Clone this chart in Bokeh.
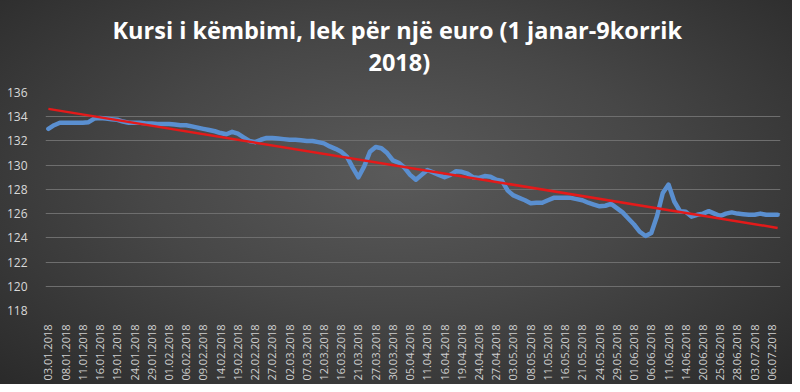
import numpy as np
from bokeh.plotting import figure
from bokeh.models import FixedTicker, Range1d, Title
from bokeh.embed import file_html
from bokeh.resources import INLINE

# business days, 3 Jan - 9 Jul 2018
dates = (
    ["03.01.2018", "04.01.2018", "05.01.2018", "08.01.2018", "09.01.2018", "10.01.2018",
     "11.01.2018", "12.01.2018", "15.01.2018", "16.01.2018", "17.01.2018", "18.01.2018",
     "19.01.2018", "22.01.2018", "23.01.2018", "24.01.2018", "25.01.2018", "26.01.2018",
     "29.01.2018", "30.01.2018", "31.01.2018"]
    + ["01.02.2018", "02.02.2018", "05.02.2018", "06.02.2018", "07.02.2018", "08.02.2018",
       "09.02.2018", "12.02.2018", "13.02.2018", "14.02.2018", "15.02.2018", "16.02.2018",
       "19.02.2018", "20.02.2018", "21.02.2018", "22.02.2018", "23.02.2018", "26.02.2018",
       "27.02.2018", "28.02.2018"]
    + ["01.03.2018", "02.03.2018", "05.03.2018", "06.03.2018", "07.03.2018", "08.03.2018",
       "09.03.2018", "12.03.2018", "13.03.2018", "15.03.2018", "16.03.2018", "19.03.2018",
       "20.03.2018", "21.03.2018", "23.03.2018", "26.03.2018", "27.03.2018", "28.03.2018",
       "29.03.2018", "30.03.2018"]
    + ["03.04.2018", "04.04.2018", "05.04.2018", "06.04.2018", "10.04.2018", "11.04.2018",
       "12.04.2018", "13.04.2018", "16.04.2018", "17.04.2018", "18.04.2018", "19.04.2018",
       "20.04.2018", "23.04.2018", "24.04.2018", "25.04.2018", "26.04.2018", "27.04.2018",
       "30.04.2018"]
    + ["02.05.2018", "03.05.2018", "04.05.2018", "07.05.2018", "08.05.2018", "09.05.2018",
       "10.05.2018", "11.05.2018", "14.05.2018", "15.05.2018", "16.05.2018", "17.05.2018",
       "18.05.2018", "21.05.2018", "22.05.2018", "23.05.2018", "24.05.2018", "25.05.2018",
       "28.05.2018", "29.05.2018", "30.05.2018", "31.05.2018"]
    + ["01.06.2018", "04.06.2018", "05.06.2018", "06.06.2018", "07.06.2018", "08.06.2018",
       "11.06.2018", "12.06.2018", "13.06.2018", "14.06.2018", "18.06.2018", "19.06.2018",
       "20.06.2018", "21.06.2018", "22.06.2018", "25.06.2018", "26.06.2018", "27.06.2018",
       "28.06.2018", "29.06.2018"]
    + ["02.07.2018", "03.07.2018", "04.07.2018", "05.07.2018", "06.07.2018", "09.07.2018"]
)

# lek per euro
rate = [
    133.0, 133.3, 133.5, 133.5, 133.5, 133.5, 133.5, 133.55, 133.85, 133.9,
    133.85, 133.8, 133.75, 133.6, 133.5, 133.5, 133.5, 133.45, 133.45, 133.4,
    133.4, 133.4, 133.35, 133.3, 133.3, 133.2, 133.1, 133.0, 132.9, 132.8,
    132.65, 132.55, 132.75, 132.6, 132.3, 132.0, 131.9, 132.1, 132.25, 132.25,
    132.2, 132.15, 132.1, 132.1, 132.05, 132.0, 132.0, 131.9, 131.8, 131.55,
    131.35, 131.1, 130.7, 129.8, 129.0, 129.9, 131.1, 131.5, 131.4, 131.0,
    130.4, 130.2, 129.8, 129.2, 128.8, 129.2, 129.6, 129.4, 129.2, 129.0,
    129.2, 129.5, 129.45, 129.3, 129.0, 128.95, 129.1, 129.05, 128.8, 128.7,
    127.9, 127.5, 127.3, 127.1, 126.85, 126.9, 126.9, 127.1, 127.3, 127.3,
    127.3, 127.3, 127.2, 127.1, 126.9, 126.75, 126.6, 126.65, 126.8, 126.45,
    126.1, 125.6, 125.1, 124.5, 124.15, 124.4, 125.8, 127.7, 128.4, 127.0,
    126.2, 126.15, 125.75, 125.9, 126.0, 126.2, 126.0, 125.8, 126.0, 126.1,
    126.0, 125.95, 125.9, 125.9, 126.0, 125.9, 125.9, 125.9,
]

y_ticks = [118, 120, 122, 124, 126, 128, 130, 132, 134, 136]
title_line1 = "Kursi i këmbimi, lek për një euro (1 janar-9korrik"
title_line2 = "2018)"

x = list(range(len(dates)))
tick_idx = x[::3]
coef = np.polyfit(x, rate, 1)
trend_x = [x[0], x[-1]]
trend_y = [float(v) for v in np.polyval(coef, trend_x)]

p = figure(
    width=792, height=384, output_backend="svg", toolbar_location=None,
    x_range=Range1d(-0.5, len(dates) - 0.5), y_range=Range1d(118, 136),
    min_border_left=45, min_border_right=12, min_border_top=92, min_border_bottom=74,
    title=None,
)
p.styles = {"background": "radial-gradient(ellipse at 50% 45%, #5a5a5a 0%, #474747 45%, #2a2a2a 100%)"}
p.border_fill_alpha = 0
p.background_fill_alpha = 0
p.outline_line_color = None


def make_title(txt, standoff, valign, offset):
    return Title(text=txt, align="left", vertical_align=valign, text_color="white",
                 text_font="Open Sans", text_font_style="bold", text_font_size="23.5px",
                 standoff=standoff, offset=offset)


p.add_layout(make_title(title_line2, 25, "top", 323), "above")
p.add_layout(make_title(title_line1, -25.2, "bottom", 67), "above")

p.line(x, rate, line_color="#5A8FD0", line_width=4.5, line_join="round", line_cap="round")
p.line(trend_x, trend_y, line_color="#E31A1A", line_width=2.5)

p.xaxis.ticker = FixedTicker(ticks=tick_idx)
p.xaxis.major_label_overrides = {i: dates[i] for i in tick_idx}
p.xaxis.major_label_orientation = np.pi / 2
p.xaxis.major_label_text_font = "Open Sans"
p.xaxis.major_label_text_font_size = "11px"
p.xaxis.major_label_text_color = "#d0d0d0"
p.xaxis.major_label_standoff = 8
p.xaxis.axis_line_color = None
p.xaxis.major_tick_line_color = None
p.xaxis.minor_tick_line_color = None

p.yaxis.ticker = FixedTicker(ticks=y_ticks)
p.yaxis.major_label_text_font = "Open Sans"
p.yaxis.major_label_text_font_size = "12px"
p.yaxis.major_label_text_color = "#d9d9d9"
p.yaxis.major_label_standoff = 12
p.yaxis.axis_line_color = None
p.yaxis.major_tick_line_color = None
p.yaxis.minor_tick_line_color = None

p.xgrid.grid_line_color = None
p.ygrid.ticker = FixedTicker(ticks=y_ticks)
p.ygrid.grid_line_color = "#6e6e6e"
p.ygrid.grid_line_width = 1

open("out.html", "w").write(file_html(p, INLINE))
